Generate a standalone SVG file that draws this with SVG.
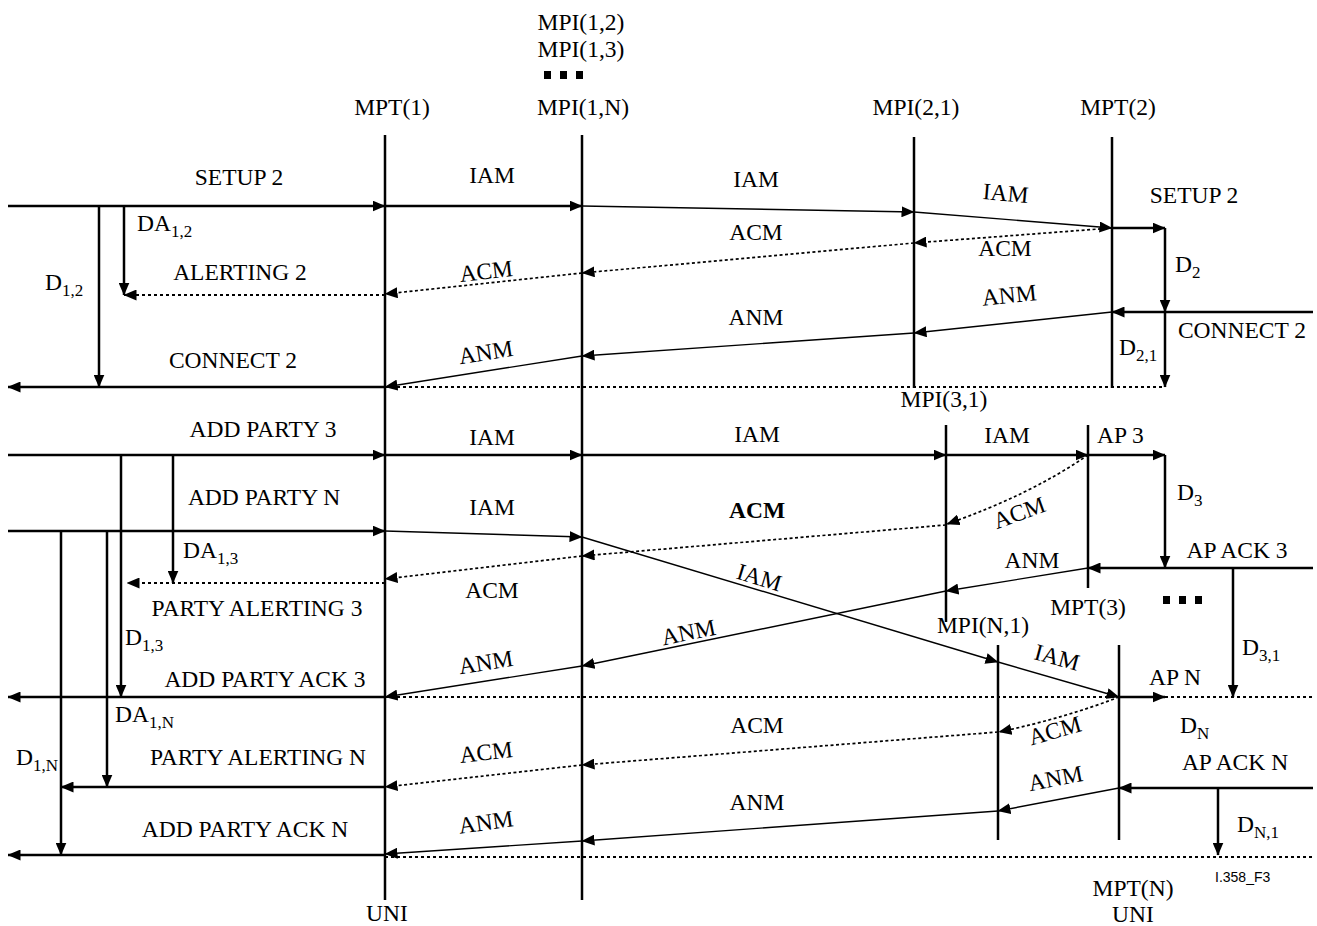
<svg xmlns="http://www.w3.org/2000/svg" width="1317" height="926" viewBox="0 0 1317 926">
<style>
text{font-family:"Liberation Serif","Times New Roman",serif;font-size:23.5px;fill:#000}
.m{text-anchor:middle}
.s{font-size:17px}
.b{font-weight:bold}
.cap{font-family:"Liberation Sans",Arial,sans-serif;font-size:14px}
.life{stroke:#000;stroke-width:2.5;fill:none}
.k{stroke:#000;stroke-width:2.5;fill:none}
.n{stroke:#000;stroke-width:1.4;fill:none}
.d{stroke:#000;stroke-width:2.2;stroke-dasharray:3 3;fill:none}
.dn{stroke:#000;stroke-width:1.7;stroke-dasharray:3 2.5;fill:none}
.a{marker-end:url(#ah)}
</style>
<defs>
<marker id="ah" markerUnits="userSpaceOnUse" viewBox="0 0 13 11" refX="12.5" refY="5.5" markerWidth="13" markerHeight="11" orient="auto">
<path d="M0,0 L13,5.5 L0,11 Z" fill="#000"/>
</marker>
</defs>
<rect width="1317" height="926" fill="#fff"/>

<g id="mpt1">
<line class="life" x1="385" y1="135" x2="385" y2="900"/>
<text class="m" x="392" y="115">MPT(1)</text>
<text class="m" x="387" y="921">UNI</text>
</g>
<g id="mpi1n">
<line class="life" x1="582" y1="135" x2="582" y2="900"/>
<text class="m" x="581" y="30">MPI(1,2)</text>
<text class="m" x="581" y="57">MPI(1,3)</text>
<rect x="544" y="71" width="7" height="8"/>
<rect x="560" y="71" width="7" height="8"/>
<rect x="576" y="71" width="7" height="8"/>
<text class="m" x="583" y="115">MPI(1,N)</text>
</g>
<g id="mpi21">
<line class="life" x1="914" y1="137" x2="914" y2="388"/>
<text class="m" x="916" y="115">MPI(2,1)</text>
</g>
<g id="mpt2">
<line class="life" x1="1112" y1="137" x2="1112" y2="388"/>
<text class="m" x="1118" y="115">MPT(2)</text>
</g>
<g id="mpi31">
<line class="life" x1="946" y1="425" x2="946" y2="622"/>
<text class="m" x="944" y="407">MPI(3,1)</text>
</g>
<g id="mpt3">
<line class="life" x1="1088" y1="425" x2="1088" y2="588"/>
<text class="m" x="1088" y="615">MPT(3)</text>
<rect x="1163" y="596" width="7" height="8"/>
<rect x="1179" y="596" width="7" height="8"/>
<rect x="1195" y="596" width="7" height="8"/>
</g>
<g id="mpin1">
<line class="life" x1="998" y1="645" x2="998" y2="840"/>
<text class="m" x="983" y="633">MPI(N,1)</text>
</g>
<g id="mptn">
<line class="life" x1="1119" y1="645" x2="1119" y2="840"/>
<text class="m" x="1133" y="896">MPT(N)</text>
<text class="m" x="1133" y="922">UNI</text>
</g>

<g id="connectors">
<!-- row 1 -->
<path class="k a" d="M8,206 H385"/>
<path class="k a" d="M385,206 H582"/>
<path class="n a" d="M582,206 L914,212"/>
<path class="n a" d="M914,212 L1112,228"/>
<path class="k a" d="M1112,228 H1165"/>
<path class="k a" d="M1165,228 V312"/>
<path class="k a" d="M1313,312 H1112"/>
<path class="k a" d="M1165,312 V387"/>
<path class="n a" d="M1112,312 L914,333"/>
<path class="n a" d="M914,333 L582,356"/>
<path class="n a" d="M582,356 L385,387"/>
<path class="dn a" d="M1112,228 L914,243"/>
<path class="dn a" d="M914,243 L582,273"/>
<path class="dn a" d="M582,273 L385,294"/>
<path class="d a" d="M385,295 H124"/>
<path class="k a" d="M124,206 V295"/>
<path class="k a" d="M99,206 V387"/>
<path class="k a" d="M385,387 H8"/>
<path class="d" d="M385,387 H1165"/>
<!-- row 2 -->
<path class="k a" d="M8,455 H385"/>
<path class="k a" d="M385,455 H582"/>
<path class="k a" d="M582,455 H946"/>
<path class="k a" d="M946,455 H1088"/>
<path class="k a" d="M1088,455 H1165"/>
<path class="k a" d="M1165,455 V568"/>
<path class="k a" d="M1313,568 H1088"/>
<path class="k a" d="M1233,568 V697"/>
<path class="dn a" d="M1088,455 Q1030,495 947,524"/>
<path class="dn a" d="M946,525 L582,556"/>
<path class="dn a" d="M582,556 L385,579"/>
<path class="d a" d="M385,583 H127"/>
<path class="k a" d="M173,455 V583"/>
<path class="k a" d="M121,455 V697"/>
<path class="k a" d="M8,531 H385"/>
<path class="n a" d="M385,531 L582,537"/>
<path class="n a" d="M582,537 L998,662"/>
<path class="n a" d="M998,662 L1119,697"/>
<path class="k a" d="M1119,697 H1165"/>
<path class="n a" d="M1088,568 L946,591"/>
<path class="n a" d="M946,591 L582,666"/>
<path class="n a" d="M582,666 L385,697"/>
<path class="k a" d="M385,697 H8"/>
<path class="d" d="M385,697 H1313"/>
<!-- row 3 -->
<path class="k a" d="M107,531 V787"/>
<path class="k a" d="M61,531 V855"/>
<path class="dn a" d="M1119,697 Q1065,718 999,732"/>
<path class="dn a" d="M998,732 L582,765"/>
<path class="dn a" d="M582,765 L385,787"/>
<path class="k a" d="M385,787 H61"/>
<path class="k a" d="M1313,788 H1119"/>
<path class="k a" d="M1218,788 V855"/>
<path class="n a" d="M1119,788 L998,811"/>
<path class="n a" d="M998,811 L582,841"/>
<path class="n a" d="M582,841 L385,854"/>
<path class="k a" d="M385,855 H8"/>
<path class="d" d="M385,857 H1313"/>
</g>

<g id="labels">
<!-- row 1 -->
<text class="m" x="239" y="185">SETUP 2</text>
<text x="137" y="231">DA<tspan class="s" dy="6">1,2</tspan></text>
<text x="45" y="290">D<tspan class="s" dy="6">1,2</tspan></text>
<text class="m" x="240" y="280">ALERTING 2</text>
<text class="m" x="233" y="368">CONNECT 2</text>
<text class="m" x="492" y="183">IAM</text>
<text class="m" x="756" y="187">IAM</text>
<text class="m" x="1005" y="201" transform="rotate(5 1005 201)">IAM</text>
<text class="m" x="1194" y="203">SETUP 2</text>
<text class="m" x="756" y="240">ACM</text>
<text class="m" x="1005" y="256">ACM</text>
<text class="m" x="487" y="279" transform="rotate(-6.4 487 279)">ACM</text>
<text x="1175" y="272">D<tspan class="s" dy="6">2</tspan></text>
<text class="m" x="1010" y="303" transform="rotate(-6 1010 303)">ANM</text>
<text class="m" x="756" y="325">ANM</text>
<text class="m" x="487" y="360" transform="rotate(-9 487 360)">ANM</text>
<text class="m" x="1242" y="338">CONNECT 2</text>
<text x="1119" y="355">D<tspan class="s" dy="6">2,1</tspan></text>
<!-- row 2 -->
<text class="m" x="263" y="437">ADD PARTY 3</text>
<text class="m" x="264" y="505">ADD PARTY N</text>
<text x="183" y="558">DA<tspan class="s" dy="6">1,3</tspan></text>
<text class="m" x="257" y="616">PARTY ALERTING 3</text>
<text x="125" y="645">D<tspan class="s" dy="6">1,3</tspan></text>
<text class="m" x="265" y="687">ADD PARTY ACK 3</text>
<text class="m" x="492" y="445">IAM</text>
<text class="m" x="757" y="442">IAM</text>
<text class="m" x="1007" y="443">IAM</text>
<text x="1097" y="443">AP 3</text>
<text class="m" x="492" y="515">IAM</text>
<text class="m b" x="757" y="518">ACM</text>
<text class="m" x="492" y="598">ACM</text>
<text class="m" x="1022" y="520" transform="rotate(-20 1022 520)">ACM</text>
<text x="1177" y="500">D<tspan class="s" dy="6">3</tspan></text>
<text class="m" x="1237" y="558">AP ACK 3</text>
<text class="m" x="1032" y="568">ANM</text>
<text class="m" x="757" y="585" transform="rotate(17 757 585)">IAM</text>
<text class="m" x="690" y="640" transform="rotate(-11.6 690 640)">ANM</text>
<text class="m" x="487" y="670" transform="rotate(-9 487 670)">ANM</text>
<text x="1242" y="655">D<tspan class="s" dy="6">3,1</tspan></text>
<text class="m" x="1055" y="665" transform="rotate(15 1055 665)">IAM</text>
<text class="m" x="1175" y="685">AP N</text>
<!-- row 3 -->
<text x="115" y="722">DA<tspan class="s" dy="6">1,N</tspan></text>
<text x="16" y="765">D<tspan class="s" dy="6">1,N</tspan></text>
<text class="m" x="258" y="765">PARTY ALERTING N</text>
<text class="m" x="245" y="837">ADD PARTY ACK N</text>
<text class="m" x="757" y="733">ACM</text>
<text class="m" x="487" y="760" transform="rotate(-6.4 487 760)">ACM</text>
<text class="m" x="1057" y="738" transform="rotate(-16 1057 738)">ACM</text>
<text x="1180" y="733">D<tspan class="s" dy="6">N</tspan></text>
<text class="m" x="1235" y="770">AP ACK N</text>
<text class="m" x="1057" y="786" transform="rotate(-11 1057 786)">ANM</text>
<text class="m" x="757" y="810">ANM</text>
<text class="m" x="487" y="830" transform="rotate(-8 487 830)">ANM</text>
<text x="1237" y="832">D<tspan class="s" dy="6">N,1</tspan></text>
<text class="cap" x="1215" y="882">I.358_F3</text>
</g>
</svg>
